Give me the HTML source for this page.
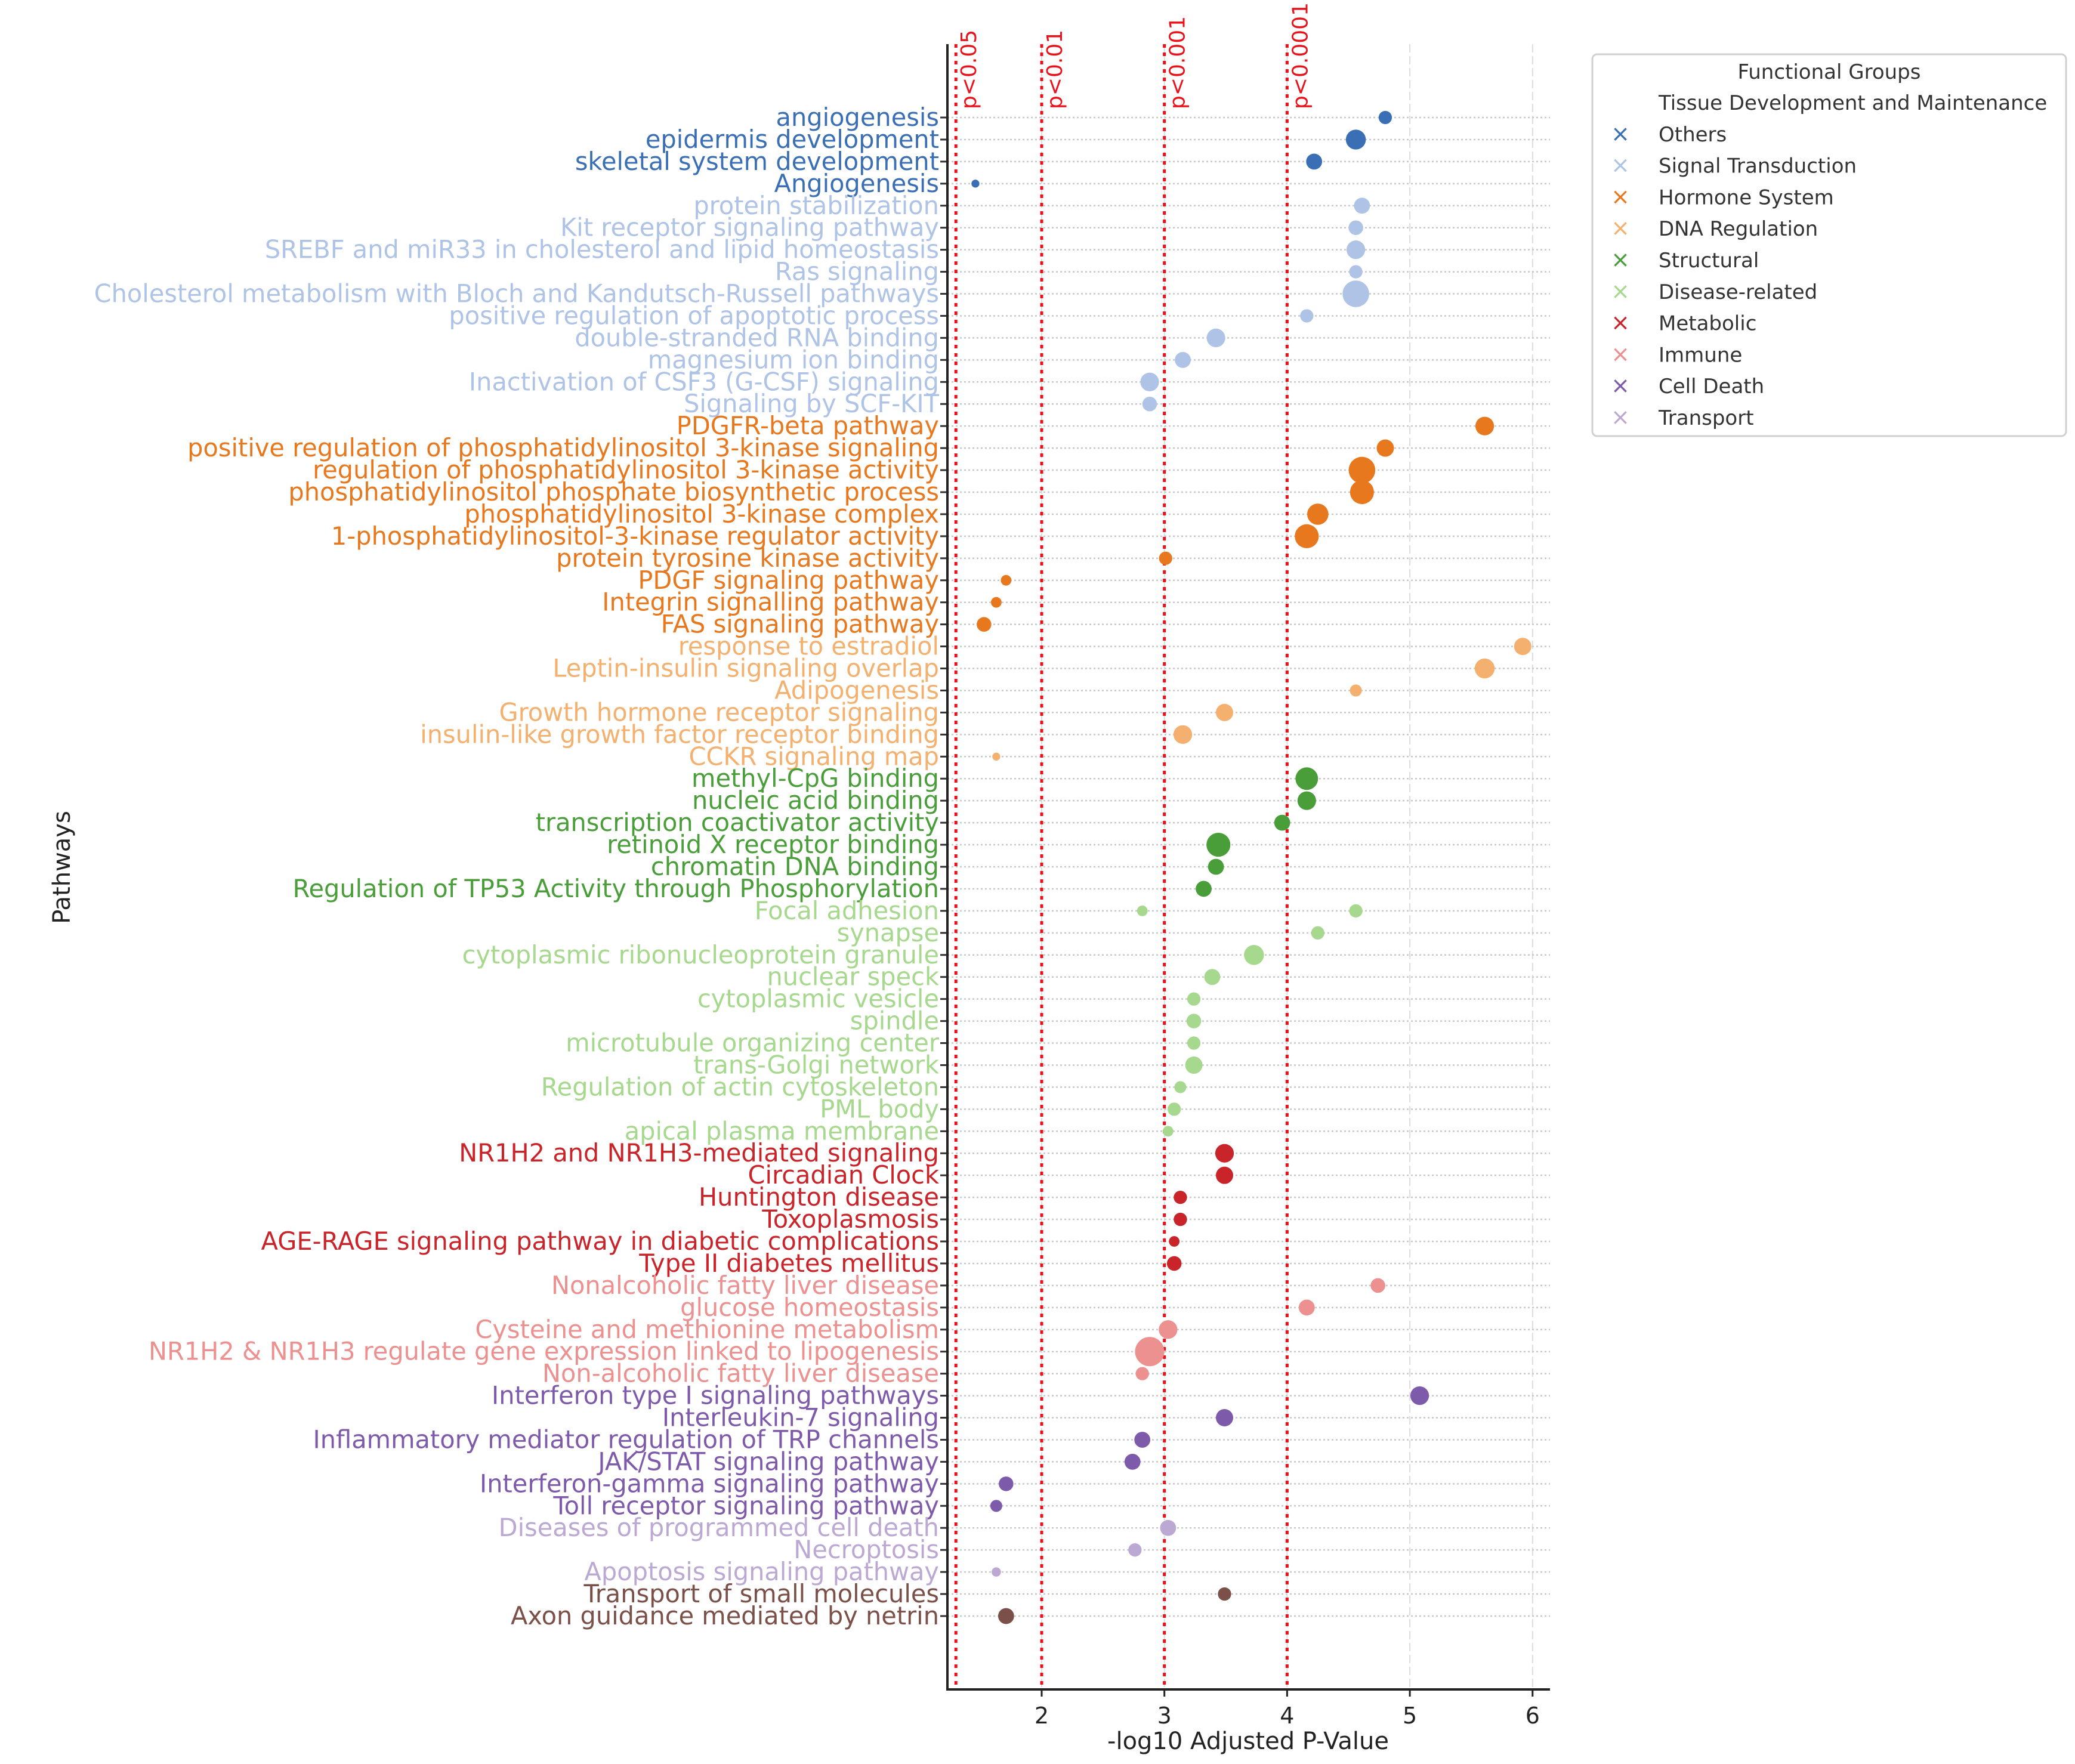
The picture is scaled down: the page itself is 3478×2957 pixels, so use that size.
<!DOCTYPE html>
<html><head><meta charset="utf-8"><style>
html,body{margin:0;padding:0;background:#fff;}
svg{display:block;font-family:"DejaVu Sans","Liberation Sans",sans-serif;}
</style></head><body>
<svg id="chart" width="3478" height="2957" viewBox="0 0 3478 2957" xmlns="http://www.w3.org/2000/svg"></svg>
<script>
const labels = ["angiogenesis","epidermis development","skeletal system development","Angiogenesis","protein stabilization","Kit receptor signaling pathway","SREBF and miR33 in cholesterol and lipid homeostasis","Ras signaling","Cholesterol metabolism with Bloch and Kandutsch-Russell pathways","positive regulation of apoptotic process","double-stranded RNA binding","magnesium ion binding","Inactivation of CSF3 (G-CSF) signaling","Signaling by SCF-KIT","PDGFR-beta pathway","positive regulation of phosphatidylinositol 3-kinase signaling","regulation of phosphatidylinositol 3-kinase activity","phosphatidylinositol phosphate biosynthetic process","phosphatidylinositol 3-kinase complex","1-phosphatidylinositol-3-kinase regulator activity","protein tyrosine kinase activity","PDGF signaling pathway","Integrin signalling pathway","FAS signaling pathway","response to estradiol","Leptin-insulin signaling overlap","Adipogenesis","Growth hormone receptor signaling","insulin-like growth factor receptor binding","CCKR signaling map","methyl-CpG binding","nucleic acid binding","transcription coactivator activity","retinoid X receptor binding","chromatin DNA binding","Regulation of TP53 Activity through Phosphorylation","Focal adhesion","Focal adhesion","synapse","cytoplasmic ribonucleoprotein granule","nuclear speck","cytoplasmic vesicle","spindle","microtubule organizing center","trans-Golgi network","Regulation of actin cytoskeleton","PML body","apical plasma membrane","NR1H2 and NR1H3-mediated signaling","Circadian Clock","Huntington disease","Toxoplasmosis","AGE-RAGE signaling pathway in diabetic complications","Type II diabetes mellitus","Nonalcoholic fatty liver disease","glucose homeostasis","Cysteine and methionine metabolism","NR1H2 & NR1H3 regulate gene expression linked to lipogenesis","Non-alcoholic fatty liver disease","Interferon type I signaling pathways","Interleukin-7 signaling","Inflammatory mediator regulation of TRP channels","JAK/STAT signaling pathway","Interferon-gamma signaling pathway","Toll receptor signaling pathway","Diseases of programmed cell death","Necroptosis","Apoptosis signaling pathway","Transport of small molecules","Axon guidance mediated by netrin"];
const values = [4.80,4.56,4.22,1.46,4.61,4.56,4.56,4.56,4.56,4.16,3.42,3.15,2.88,2.88,5.61,4.80,4.61,4.61,4.25,4.16,3.01,1.71,1.63,1.53,5.92,5.61,4.56,3.49,3.15,1.63,4.16,4.16,3.96,3.44,3.42,3.32,2.82,4.56,4.25,3.73,3.39,3.24,3.24,3.24,3.24,3.13,3.08,3.03,3.49,3.49,3.13,3.13,3.08,3.08,4.74,4.16,3.03,2.88,2.82,5.08,3.49,2.82,2.74,1.71,1.63,3.03,2.76,1.63,3.49,1.71];
const sizes = [5,7.5,6,3,6,5.5,7,5,10,5,7,6,7,5.5,7,6.5,10,9,8,9,5,4,4,5.5,6.5,7.5,4.5,6.5,7,3,8.5,7,6,9,6,6,4,5,5,7.5,6,5,5.5,5,6.5,4.5,5,4,7,6.5,5,5,4,5.5,5.5,6,7,11,5,7,6.5,6,6,5.5,4.5,6,5,3.5,5,6];
const groups = ["A","A","A","A","S","S","S","S","S","S","S","S","S","S","H","H","H","H","H","H","H","H","H","H","D","D","D","D","D","D","T","T","T","T","T","T","R","R","R","R","R","R","R","R","R","R","R","R","M","M","M","M","M","M","I","I","I","I","I","C","C","C","C","C","C","P","P","P","B","B"];
const xTicks = [2,3,4,5,6];
const thresholds = [1.301,2,3,4];
const thresholdLabels = ["p<0.05","p<0.01","p<0.001","p<0.0001"];
const legendNames = ["Others","Signal Transduction","Hormone System","DNA Regulation","Structural","Disease-related","Metabolic","Immune","Cell Death","Transport"];
const legendColors = ["#3a6fb5","#aec3e6","#e8781e","#f4b06e","#4a9e3a","#a6d88e","#c8242a","#ec9090","#7e5aab","#bba9d4"];
const groupColor = {A:"#3a6fb5",S:"#aec3e6",H:"#e8781e",D:"#f4b06e",T:"#4a9e3a",R:"#a6d88e",M:"#c8242a",I:"#ec9090",C:"#7e5aab",P:"#bba9d4",B:"#7a5048"};

const NS="http://www.w3.org/2000/svg";
const svg=document.getElementById('chart');
function mk(tag,attrs,parent){const e=document.createElementNS(NS,tag);for(const k in attrs)e.setAttribute(k,attrs[k]);(parent||svg).appendChild(e);return e;}
const L=1588,R=2598,T=74,B=2832;
const x=v=>1746+(v-2)*205.7;
const rows=[];labels.forEach(l=>{if(!rows.includes(l))rows.push(l);});
const y=i=>197+i*((2709-197)/(rows.length-1));
const rowColor={};labels.forEach((l,i)=>{if(!(l in rowColor))rowColor[l]=groupColor[groups[i]];});

xTicks.forEach(t=>{const g=mk('line',{x1:x(t),x2:x(t),y1:T,y2:B,stroke:'#dcdcdc','stroke-width':2,'stroke-dasharray':'14 6'});

});
rows.forEach((r,i)=>{
 const g=mk('line',{x1:L,x2:R,y1:y(i),y2:y(i),stroke:'#c8c8c8','stroke-width':2.5,'stroke-dasharray':'3 4'});
 
 
 mk('line',{x1:L-12,x2:L,y1:y(i),y2:y(i),stroke:'#333','stroke-width':3});
 const t=mk('text',{x:L-14,y:y(i)+14,'text-anchor':'end','font-size':41.5,fill:rowColor[r]});
 t.textContent=r;
 
 
});
thresholds.forEach((v,i)=>{
 const l=mk('line',{x1:x(v),x2:x(v),y1:T,y2:B,stroke:'#e8121b','stroke-width':5,'stroke-dasharray':'6 8'});
 
 
 const t=mk('text',{x:0,y:0,transform:`translate(${x(v)+34},183) rotate(-90)`,'font-size':36,fill:'#e8121b'});
 t.textContent=thresholdLabels[i];
 
 
});
labels.forEach((l,i)=>{
 const c=mk('circle',{cx:x(values[i]),cy:y(rows.indexOf(l)),r:sizes[i]*2.23,fill:groupColor[groups[i]]});
 
 
});
const ax=mk('path',{d:`M${L},${T} V${B} H${R}`,stroke:'#222','stroke-width':4,fill:'none'});


xTicks.forEach(t=>{
 mk('line',{x1:x(t),x2:x(t),y1:B,y2:B+12,stroke:'#222','stroke-width':3});
 const tx=mk('text',{x:x(t),y:B+57,'text-anchor':'middle','font-size':38,fill:'#222'});
 tx.textContent=t;
 
 
});
const xt=mk('text',{x:2092,y:2932,'text-anchor':'middle','font-size':40,fill:'#222'});
xt.textContent='-log10 Adjusted P-Value';


const yt=mk('text',{x:0,y:0,transform:'translate(117,1454) rotate(-90)','text-anchor':'middle','font-size':40,fill:'#222'});
yt.textContent='Pathways';


const lg=mk('g',{});


mk('rect',{x:2669,y:91,width:794,height:640,rx:8,fill:'#fff',stroke:'#d0d0d0','stroke-width':3},lg);
const lt=mk('text',{x:3066,y:132,'text-anchor':'middle','font-size':34,fill:'#333'},lg);
lt.textContent='Functional Groups';
const l0=mk('text',{x:2780,y:184,'font-size':34,fill:'#333'},lg);
l0.textContent='Tissue Development and Maintenance';
legendNames.forEach((n,i)=>{
 const yy=184+(i+1)*52.8;
 const e=mk('g',{},lg);
 
 
 const m=mk('text',{x:2716,y:yy,'text-anchor':'middle','font-size':38,fill:legendColors[i]},e);
 m.textContent='×';
 const t=mk('text',{x:2780,y:yy,'font-size':34,fill:'#333'},e);
 t.textContent=n;
});
</script>
</body></html>
